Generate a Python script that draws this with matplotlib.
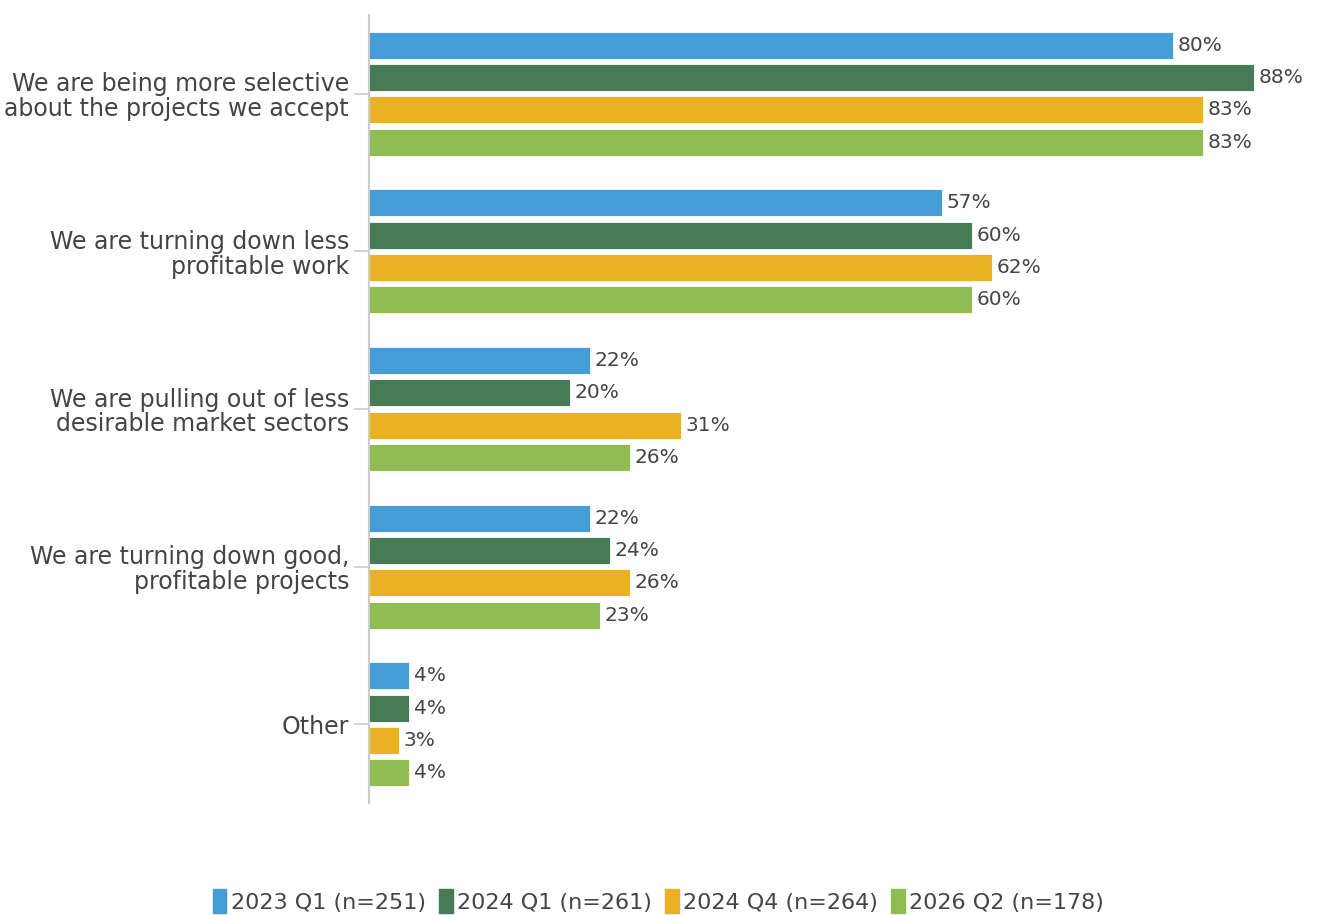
import matplotlib.pyplot as plt
import numpy as np

# survey answers, top to bottom
categories = [
    "We are being more selective\nabout the projects we accept",
    "We are turning down less\nprofitable work",
    "We are pulling out of less\ndesirable market sectors",
    "We are turning down good,\nprofitable projects",
    "Other",
]
series_names = ["2023 Q1 (n=251)", "2024 Q1 (n=261)", "2024 Q4 (n=264)", "2026 Q2 (n=178)"]
q1_2023 = [80, 57, 22, 22, 4]
q1_2024 = [88, 60, 20, 24, 4]
q4_2024 = [83, 62, 31, 26, 3]
q2_2026 = [83, 60, 26, 23, 4]
colors = ["#459dd7", "#477b56", "#ecb023", "#8fbd51"]

series = [q1_2023, q1_2024, q4_2024, q2_2026]
txt = "#444444"

plt.rcParams['font.family'] = ['DejaVu Sans']

fig = plt.figure(figsize=(13.17, 9.15), dpi=100)
fig.patch.set_facecolor("white")
ax = fig.add_axes([0.2802, 0.1224, 0.7198, 0.8612])
ax.set_facecolor("none")

y = np.arange(len(categories))
slot = 0.205
offsets = (np.arange(4) - 1.5) * slot
for vals, off, col in zip(series, offsets, colors):
    bars = ax.barh(y + off, vals, height=0.171, color=col, edgecolor="white", linewidth=0.6)
    for b, v in zip(bars, vals):
        ax.text(v + 0.45, b.get_y() + b.get_height() / 2, f"{v}%",
                va="center", ha="left", fontsize=14.5, color=txt)

ax.set_xlim(0, 94.3)
ax.set_ylim(len(categories) - 0.5, -0.5)
ax.set_xticks([])
ax.set_yticks(y)
ax.set_yticklabels(categories, fontsize=17, color=txt, ha="right", linespacing=1.05)
ax.tick_params(axis="y", length=11, width=1.2, color="#cccccc", pad=0)
for lab in ax.get_yticklabels():
    lab.set_x(-0.005)
for s in ["top", "right", "bottom"]:
    ax.spines[s].set_visible(False)
ax.spines["left"].set_color("#cccccc")
ax.spines["left"].set_linewidth(1.5)

# legend with narrow swatches
handles = [plt.Rectangle((0, 0), 1, 1, color=c) for c in colors]
leg = fig.legend(handles, series_names, loc="center", bbox_to_anchor=(0.5, 0.015),
                 ncol=4, frameon=False, fontsize=16, handlelength=0.6, handleheight=1.3,
                 handletextpad=0.2, columnspacing=0.6, labelcolor=txt)

fig.savefig("out.png", dpi=100, facecolor="white")
